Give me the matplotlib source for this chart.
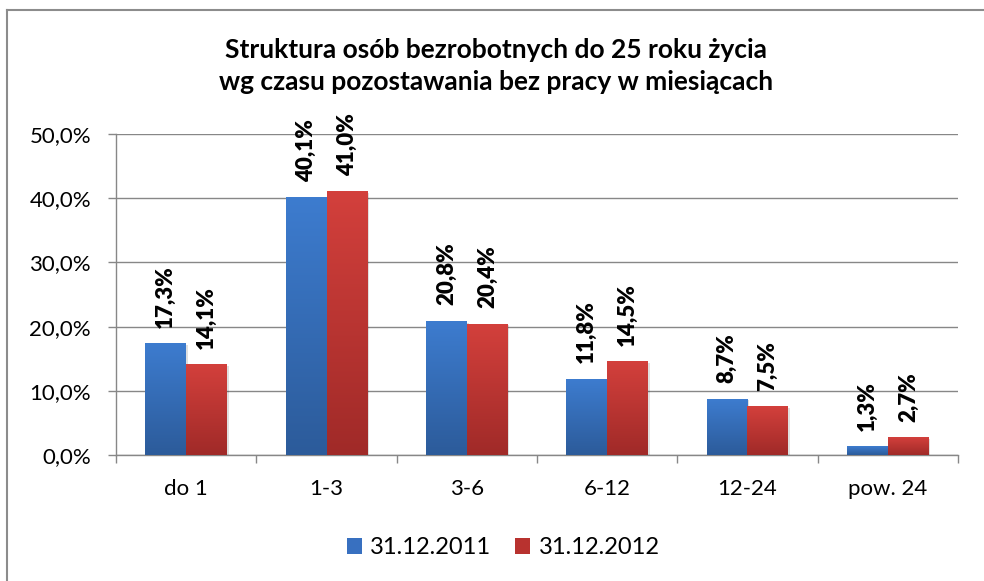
import matplotlib
matplotlib.use("Agg")
import matplotlib.pyplot as plt
import matplotlib.patches as mpatches
import matplotlib.lines as mlines
import numpy as np
from matplotlib.colors import LinearSegmentedColormap

categories = ["do 1", "1-3", "3-6", "6-12", "12-24", "pow. 24"]
series_names = ["31.12.2011", "31.12.2012"]
values_2011 = [17.3, 40.1, 20.8, 11.8, 8.7, 1.3]
values_2012 = [14.1, 41.0, 20.4, 14.5, 7.5, 2.7]
y_ticks = [0, 10, 20, 30, 40, 50]
title = "Struktura osób bezrobotnych do 25 roku życia\nwg czasu pozostawania bez pracy w miesiącach"

plt.rcParams['font.family'] = ['Lato', 'DejaVu Sans']

W, H = 984, 581
fig = plt.figure(figsize=(W / 100, H / 100), dpi=100)

# outer frame (top and left edges visible)
frame_c = "#8c8c8c"
fig.add_artist(mlines.Line2D([7 / W, 7 / W], [0, 1 - 10 / H], transform=fig.transFigure,
                             color=frame_c, lw=1.5))
fig.add_artist(mlines.Line2D([7 / W, 1], [1 - 10 / H, 1 - 10 / H], transform=fig.transFigure,
                             color=frame_c, lw=1.5))

left, right, top, bottom = 116, 958, 134, 455
ax = fig.add_axes([left / W, (H - bottom) / H, (right - left) / W, (bottom - top) / H])

grid_c = "#878787"
ax.set_xlim(0, len(categories))
ax.set_ylim(0, 50)
ax.set_yticks(y_ticks)
ax.set_yticklabels([f"{v:.1f}%".replace(".", ",") for v in y_ticks], fontsize=16)
ax.yaxis.grid(True, color=grid_c, lw=1)
ax.set_axisbelow(True)
for s in ["top", "right"]:
    ax.spines[s].set_visible(False)
for s in ["left", "bottom"]:
    ax.spines[s].set_color(grid_c)
    ax.spines[s].set_linewidth(1)

ax.set_xticks(np.arange(len(categories) + 1))
ax.set_xticklabels([])
ax.set_xticks(np.arange(len(categories)) + 0.5, minor=True)
ax.set_xticklabels(categories, minor=True, fontsize=16)
ax.tick_params(axis="x", which="major", length=6, color=grid_c, width=1)
ax.tick_params(axis="x", which="minor", length=0, pad=17)
ax.tick_params(axis="y", length=6, color=grid_c, width=1, pad=12)

blue_cmap = LinearSegmentedColormap.from_list("b", ["#2c5b9a", "#3d7ccf"])
red_cmap = LinearSegmentedColormap.from_list("r", ["#a02a28", "#d3403c"])
grad = np.linspace(0, 1, 256).reshape(-1, 1)

bw = 0.292
x = np.arange(len(categories)) + 0.5
for vals, cmap, off in [(values_2011, blue_cmap, -bw / 2),
                        (values_2012, red_cmap, bw / 2)]:
    for xi, v in zip(x, vals):
        x0 = xi + off - bw / 2
        ax.add_patch(mpatches.Rectangle((x0 + 0.012, 0), bw, v - 0.2,
                                        facecolor="#000000", alpha=0.12, lw=0, zorder=2))
        ax.imshow(grad, extent=[x0, x0 + bw, 0, v], origin="lower", aspect="auto",
                  cmap=cmap, zorder=3, interpolation="bilinear")
        ax.annotate(f"{v:.1f}%".replace(".", ","), xy=(xi + off, v), xytext=(0, 11.5),
                    textcoords="offset points", rotation=90, ha="center", va="bottom",
                    fontsize=16, fontweight="heavy", zorder=4)

ax.set_xlim(0, len(categories))
ax.set_ylim(0, 50)

fig.text(496 / W, 1 - 66 / H, title, ha="center", va="center", fontsize=19,
         fontweight="bold", linespacing=1.45)

handles = [mpatches.Patch(facecolor="#3870c0"), mpatches.Patch(facecolor="#b8322f")]
fig.legend(handles, series_names, loc="center", bbox_to_anchor=(503 / W, 1 - 548 / H),
           ncol=2, frameon=False, fontsize=17, handlelength=0.65, handleheight=0.65,
           handletextpad=0.35, columnspacing=1.0)

fig.savefig("out.png", dpi=100)
